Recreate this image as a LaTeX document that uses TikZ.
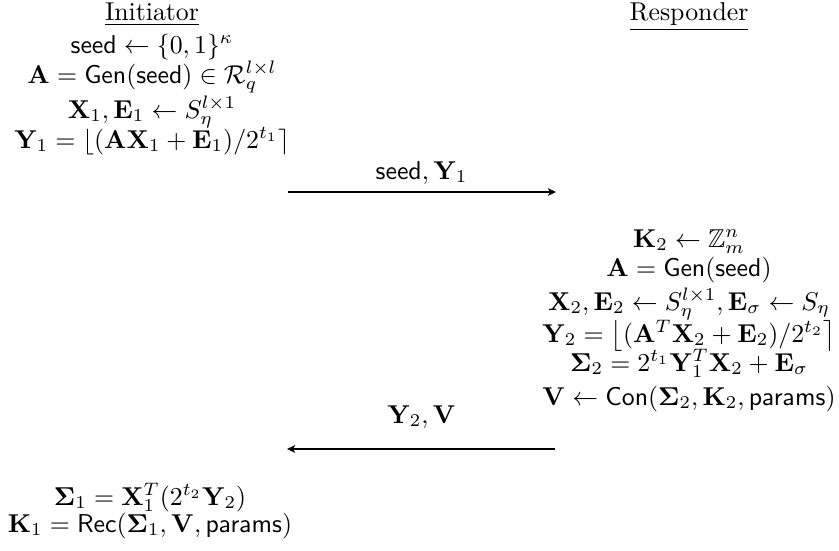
\documentclass[tikz,border=0pt]{standalone}
\usepackage{amsmath,amssymb}
\usetikzlibrary{arrows.meta}
\begin{document}
\begin{tikzpicture}[x=0.3876pt,y=-0.3876pt,
  txt/.style={inner sep=0pt, anchor=base},
  msg/.style={-{Stealth[length=3.2pt,width=3pt,inset=0.9pt]}, line width=0.45pt}]
\useasboundingbox (0,0) rectangle (839,550);
% headers
\node[txt] (init) at (152,20.7) {\underline{Initiator}};
\node[txt] (resp) at (689,20.7) {\underline{Responder}};
% initiator, first part
\node[txt] (l1) at (152,53) {$\mathsf{seed}\leftarrow\{0,1\}^\kappa$};
\node[txt] (l2) at (152,83) {$\mathbf{A}=\mathsf{Gen}(\mathsf{seed})\in\mathcal{R}_q^{l\times l}$};
\node[txt] (l3) at (152,118) {$\mathbf{X}_1,\mathbf{E}_1\leftarrow S_\eta^{l\times 1}$};
\node[txt] (l4) at (152,148) {$\mathbf{Y}_1=\left\lfloor(\mathbf{A}\mathbf{X}_1+\mathbf{E}_1)/2^{t_1}\right\rceil$};
% first message
\coordinate (a1s) at (288,192);
\coordinate (a1e) at (556,192);
\draw[msg] (a1s) -- (a1e);
\node[txt] (m1) at (421.5,179) {$\mathsf{seed},\mathbf{Y}_1$};
% responder
\node[txt] (r1) at (689,247) {$\mathbf{K}_2\leftarrow\mathbb{Z}_m^n$};
\node[txt] (r2) at (689,276) {$\mathbf{A}=\mathsf{Gen}(\mathsf{seed})$};
\node[txt] (r3) at (689,310) {$\mathbf{X}_2,\mathbf{E}_2\leftarrow S_\eta^{l\times1},\mathbf{E}_\sigma\leftarrow S_\eta$};
\node[txt] (r4) at (689,342) {$\mathbf{Y}_2=\left\lfloor(\mathbf{A}^T\mathbf{X}_2+\mathbf{E}_2)/2^{t_2}\right\rceil$};
\node[txt] (r5) at (689,371) {$\mathbf{\Sigma}_2=2^{t_1}\mathbf{Y}_1^T\mathbf{X}_2+\mathbf{E}_\sigma$};
\node[txt] (r6) at (689,405) {$\mathbf{V}\leftarrow\mathsf{Con}(\mathbf{\Sigma}_2,\mathbf{K}_2,\mathsf{params})$};
% second message
\coordinate (a2s) at (555,449);
\coordinate (a2e) at (287,449);
\draw[msg] (a2s) -- (a2e);
\node[txt] (m2) at (421.5,423) {$\mathbf{Y}_2,\mathbf{V}$};
% initiator, second part
\node[txt] (b1) at (150,505) {$\mathbf{\Sigma}_1=\mathbf{X}_1^T(2^{t_2}\mathbf{Y}_2)$};
\node[txt] (b2) at (150,532) {$\mathbf{K}_1=\mathsf{Rec}(\mathbf{\Sigma}_1,\mathbf{V},\mathsf{params})$};
\end{tikzpicture}
\end{document}
